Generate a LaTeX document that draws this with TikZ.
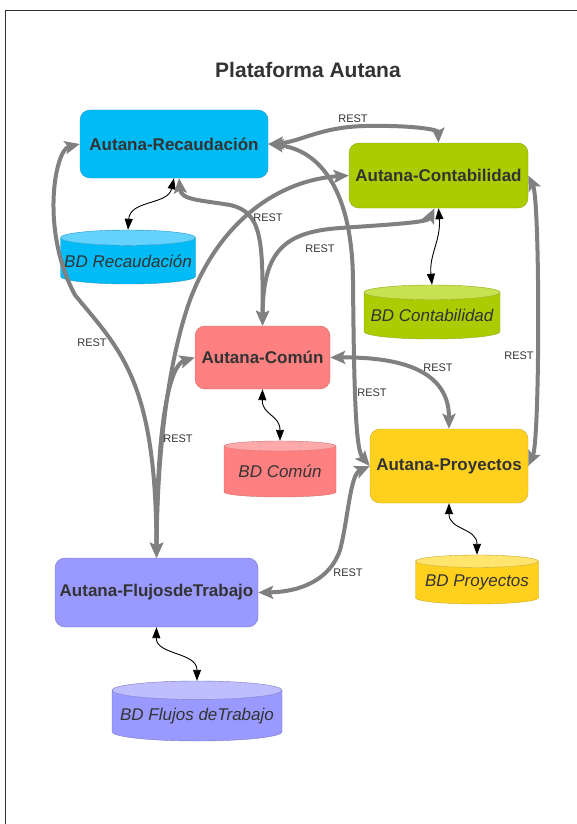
\documentclass[tikz,border=0pt]{standalone}
\usepackage{fontspec}
\setmainfont{Liberation Sans}
\usetikzlibrary{arrows.meta, shapes.geometric}

\definecolor{recfill}{RGB}{0,187,245}
\definecolor{recdraw}{RGB}{40,150,200}
\definecolor{rectop}{RGB}{100,210,255}
\definecolor{confill}{RGB}{170,204,0}
\definecolor{condraw}{RGB}{140,170,20}
\definecolor{contop}{RGB}{200,225,80}
\definecolor{comfill}{RGB}{255,128,128}
\definecolor{comdraw}{RGB}{210,110,110}
\definecolor{comtop}{RGB}{255,170,170}
\definecolor{proyfill}{RGB}{255,209,30}
\definecolor{proydraw}{RGB}{200,170,40}
\definecolor{proytop}{RGB}{255,228,110}
\definecolor{flufill}{RGB}{153,153,255}
\definecolor{fludraw}{RGB}{120,120,200}
\definecolor{flutop}{RGB}{190,190,255}
\definecolor{restgray}{RGB}{128,128,128}
\definecolor{txtgray}{RGB}{51,51,51}

\begin{document}
\begin{tikzpicture}[x=1pt, y=-1pt,
      module/.style={draw, rounded corners=10pt, font=\fontsize{17}{20}\selectfont\bfseries, text=txtgray, inner sep=0pt},
      db/.style={cylinder, shape border rotate=90, aspect=0.12, draw, cylinder uses custom fill, anchor=shape center, font=\fontsize{17}{20}\selectfont\itshape, text=txtgray, inner sep=0pt},
      restlink/.style={draw=restgray, line width=4pt, {Stealth[length=15pt,width=13pt,inset=3pt]}-{Stealth[length=15pt,width=13pt,inset=3pt]}},
      dblink/.style={draw=black, line width=0.9pt, {Triangle[length=11pt,width=8pt]}-{Triangle[length=11pt,width=8pt]}},
      lbl/.style={font=\fontsize{11}{13}\selectfont, text=txtgray, inner sep=1pt}]
    \useasboundingbox (0,0) rectangle (577,824);
    \draw[line width=1pt, txtgray] (5.5,824) -- (5.5,10.5) -- (577,10.5);
    \node[font=\fontsize{21}{24}\selectfont\bfseries, text=txtgray] (title) at (308,70) {Plataforma Autana};
    % --- modules ---
    \node[module, fill=recfill, draw=recdraw, minimum width=188pt, minimum height=68pt] (rec) at (174,144) {Autana-Recaudación};
    \node[module, fill=confill, draw=condraw, minimum width=179pt, minimum height=65pt] (cont) at (438.5,175.5) {Autana-Contabilidad};
    \node[module, fill=comfill, draw=comdraw, minimum width=135pt, minimum height=63pt] (com) at (262.5,357.5) {Autana-Común};
    \node[module, fill=proyfill, draw=proydraw, minimum width=158pt, minimum height=74pt] (proy) at (449,466) {Autana-Proyectos};
    \node[module, fill=flufill, draw=fludraw, minimum width=203pt, minimum height=69pt] (flu) at (156.5,592.5) {Autana-FlujosdeTrabajo};
    % --- databases ---
    \node[db, cylinder body fill=recfill, cylinder end fill=rectop, draw=recdraw, minimum width=135pt, minimum height=54pt] (dbrec) at (128,257) {BD Recaudación};
    \node[db, cylinder body fill=confill, cylinder end fill=contop, draw=condraw, minimum width=136pt, minimum height=54pt] (dbcont) at (432,312) {BD Contabilidad};
    \node[db, cylinder body fill=comfill, cylinder end fill=comtop, draw=comdraw, minimum width=112pt, minimum height=56pt] (dbcom) at (280,469) {BD Común};
    \node[db, cylinder body fill=proyfill, cylinder end fill=proytop, draw=proydraw, minimum width=123pt, minimum height=49pt] (dbproy) at (477,579.5) {BD Proyectos};
    \node[db, cylinder body fill=flufill, cylinder end fill=flutop, draw=fludraw, minimum width=170pt, minimum height=60pt] (dbflu) at (197,711) {BD Flujos deTrabajo};
    % --- module to database ---
    \draw[dblink] (rec.south) .. controls (168,205) and (130,200) .. (dbrec.north);
    \draw[dblink] (cont.south) .. controls (441,240) and (429,255) .. (dbcont.north);
    \draw[dblink] (com.south) .. controls (262,415) and (280,415) .. (dbcom.north);
    \draw[dblink] (proy.south) .. controls (449,530) and (477,528) .. (dbproy.north);
    \draw[dblink] (flu.south) .. controls (156,655) and (197,652) .. (dbflu.north);
    % --- REST links ---
    \draw[restlink] (rec.east) .. controls (300,142) and (320,127) .. (365,126) .. controls (415,125) and (438,130) .. (cont.north);
    \draw[restlink] (rec.east) .. controls (320,150) and (352,190) .. (353,280) .. controls (354,400) and (356,450) .. (proy.west);
    \draw[restlink] ([xshift=5pt]rec.south) .. controls (181,200) and (200,200) .. (230,205) .. controls (262,212) and (263,240) .. (com.north);
    \draw[restlink] ([xshift=-4pt]cont.south) .. controls (428,222) and (400,224) .. (340,228) .. controls (285,232) and (263,250) .. (com.north);
    \draw[restlink] (cont.west) .. controls (280,180) and (220,220) .. (190,300) .. controls (165,370) and (157,470) .. (flu.north);
    \draw[restlink] (com.west) .. controls (170,365) and (157,420) .. (flu.north);
    \draw[restlink] (rec.west) .. controls (55,150) and (40,230) .. (75,295) .. controls (120,350) and (156,380) .. (flu.north);
    \draw[restlink] (com.east) .. controls (400,357) and (449,370) .. (proy.north);
    \draw[restlink] (cont.east) .. controls (540,200) and (540,440) .. (proy.east);
    \draw[restlink] (proy.west) .. controls (350,475) and (348,520) .. (340,550) .. controls (330,580) and (300,592) .. (flu.east);
    % --- labels ---
    \node[lbl] (r1) at (353,119) {REST};
    \node[lbl] (r2) at (268,218) {REST};
    \node[lbl] (r3) at (320,249) {REST};
    \node[lbl] (r4) at (92,343) {REST};
    \node[lbl] (r5) at (519,356) {REST};
    \node[lbl] (r6) at (438,368) {REST};
    \node[lbl] (r7) at (372,393) {REST};
    \node[lbl] (r8) at (178,439) {REST};
    \node[lbl] (r9) at (348,573) {REST};
  \end{tikzpicture}
\end{document}
